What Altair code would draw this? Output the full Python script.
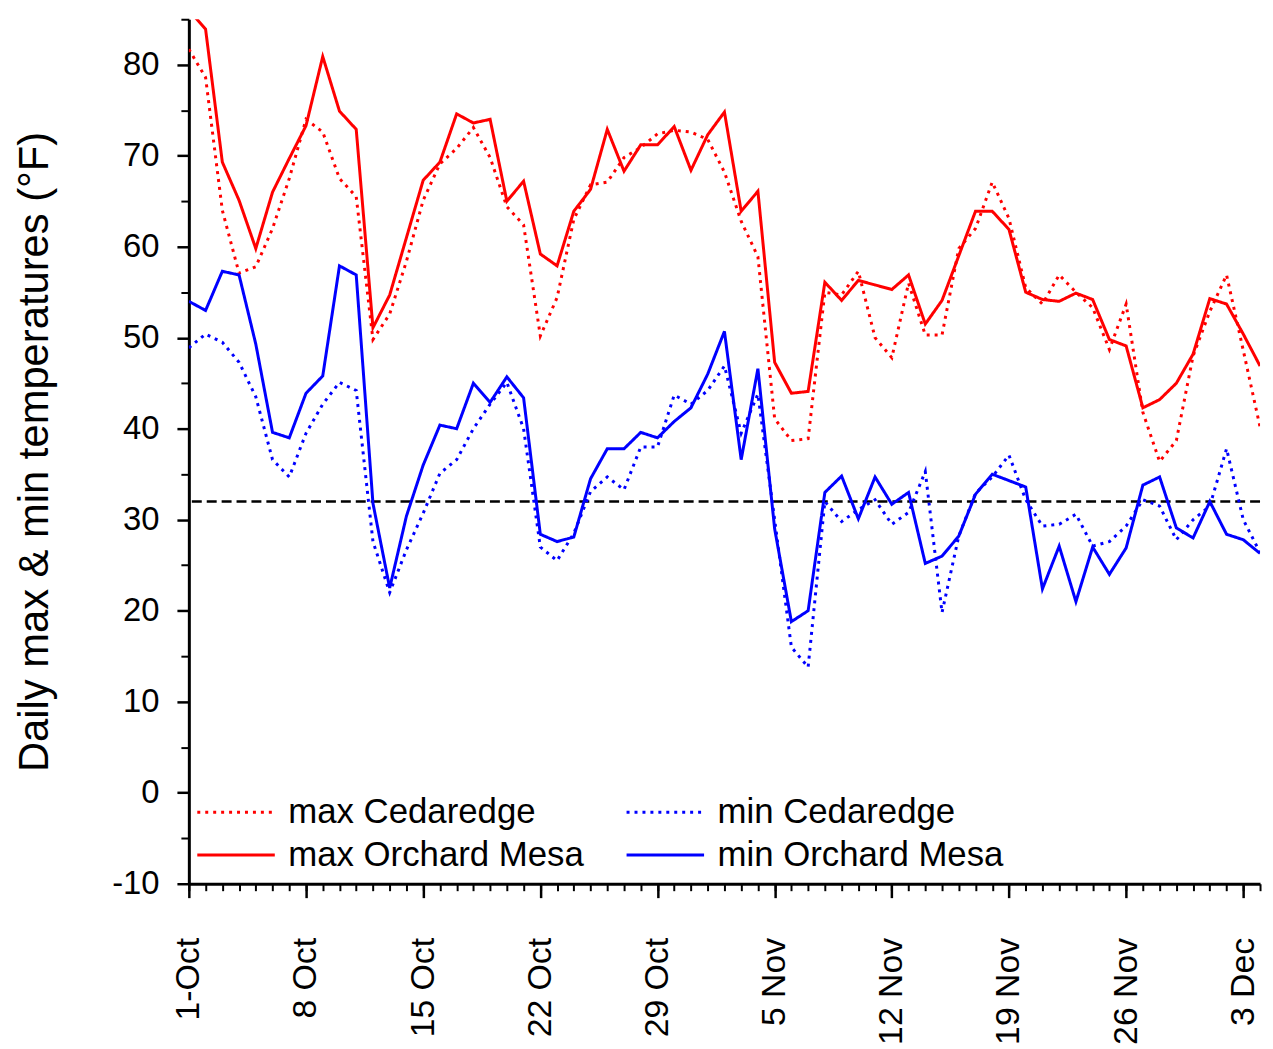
import json
import altair as alt
import pandas as pd

# ---- data ----
days = list(range(65))  # 0 = 1 Oct ... 64 = 4 Dec

max_cedaredge = [81.7, 78.6, 64.0, 57.1, 57.8, 62.0, 67.5, 74.0, 72.6, 67.5,
                 65.5, 49.8, 52.6, 58.4, 65.1, 69.1, 70.8, 73.1, 69.8, 64.4,
                 62.4, 50.2, 54.4, 63.0, 66.8, 67.1, 69.8, 70.9, 72.4, 72.8,
                 72.6, 71.8, 68.2, 62.8, 58.9, 41.1, 38.7, 38.9, 55.0, 54.7,
                 57.3, 50.0, 47.8, 56.0, 50.3, 50.3, 59.8, 62.0, 67.1, 63.1,
                 55.5, 53.7, 56.9, 55.0, 53.3, 48.7, 53.7, 41.8, 36.4, 38.7,
                 48.0, 52.9, 56.9, 48.6, 40.2]

min_cedaredge = [48.9, 50.4, 49.5, 47.3, 43.5, 36.6, 34.7, 39.5, 42.7, 45.1,
                 44.2, 27.6, 22.0, 26.7, 30.7, 35.1, 36.6, 40.0, 42.7, 45.1,
                 40.0, 27.0, 25.5, 28.5, 33.1, 34.7, 33.3, 38.0, 38.0, 43.7,
                 42.7, 44.2, 46.9, 39.5, 43.8, 30.0, 16.0, 13.8, 32.0, 29.8,
                 31.1, 32.2, 29.5, 30.8, 35.3, 19.8, 28.2, 32.9, 34.7, 37.1,
                 32.2, 29.3, 29.5, 30.6, 27.1, 27.6, 29.3, 32.2, 31.5, 27.8,
                 30.0, 31.5, 37.8, 30.0, 26.4]

max_orchard_mesa = [86.0, 83.9, 69.3, 65.1, 59.8, 66.0, 69.7, 73.3, 80.9, 74.9,
                    72.9, 51.1, 54.7, 61.0, 67.3, 69.3, 74.6, 73.6, 74.0, 65.0,
                    67.2, 59.2, 57.9, 63.9, 66.3, 72.9, 68.3, 71.2, 71.2, 73.2,
                    68.4, 72.3, 74.8, 63.9, 66.1, 47.3, 43.9, 44.1, 56.1, 54.1,
                    56.3, 55.8, 55.3, 56.9, 51.5, 54.1, 59.0, 63.9, 63.9, 61.9,
                    55.0, 54.2, 54.0, 54.9, 54.2, 49.8, 49.1, 42.3, 43.2, 45.0,
                    48.2, 54.3, 53.7, 50.4, 46.9]

min_orchard_mesa = [54.0, 53.0, 57.3, 56.9, 49.3, 39.6, 39.0, 43.9, 45.8, 57.9,
                    56.9, 31.8, 22.5, 30.4, 36.0, 40.4, 40.0, 45.0, 42.9, 45.7,
                    43.4, 28.4, 27.6, 28.1, 34.5, 37.8, 37.8, 39.6, 39.0, 40.8,
                    42.3, 46.0, 50.7, 36.6, 46.6, 29.0, 18.8, 20.0, 33.0, 34.8,
                    30.1, 34.7, 31.7, 33.0, 25.2, 26.0, 28.2, 32.8, 35.0, 34.3,
                    33.6, 22.4, 27.1, 21.0, 27.0, 24.0, 26.9, 33.8, 34.7, 29.1,
                    28.0, 32.0, 28.4, 27.8, 26.3]

series_names = ["max Cedaredge", "min Cedaredge", "max Orchard Mesa", "min Orchard Mesa"]
series_colors = ["#ff0000", "#0000ff", "#ff0000", "#0000ff"]
# legend fills column by column: first column = max series, second = min series
legend_order = ["max Cedaredge", "max Orchard Mesa", "min Cedaredge", "min Orchard Mesa"]

tick_days = [0, 7, 14, 21, 28, 35, 42, 49, 56, 63]
tick_labels = ["1-Oct", "8 Oct", "15 Oct", "22 Oct", "29 Oct",
               "5 Nov", "12 Nov", "19 Nov", "26 Nov", "3 Dec"]
y_major_ticks = [-10, 0, 10, 20, 30, 40, 50, 60, 70, 80]
y_minor_ticks = [-5, 5, 15, 25, 35, 45, 55, 65, 75, 85]
freeze_line = [32]

rows = []
for name, vals in zip(series_names,
                      [max_cedaredge, min_cedaredge, max_orchard_mesa, min_orchard_mesa]):
    for d, v in zip(days, vals):
        rows.append({"day": d, "temp": v, "series": name})
df = pd.DataFrame(rows)

FONT = "Liberation Sans"
xs = alt.Scale(domain=[0, 64], nice=False, zero=False)
ys = alt.Scale(domain=[-10, 85], nice=False, zero=False)

label_expr = "[" + ",".join(json.dumps(t) for t in tick_labels) + "][round(datum.value/7)]"

x_major = alt.Axis(values=tick_days, labelExpr=label_expr, labelAngle=-90,
                   labelAlign="right", labelBaseline="middle",
                   labelFont=FONT, labelFontSize=34, labelColor="black",
                   labelPadding=40, tickSize=14, tickWidth=2.5, tickColor="black",
                   domainColor="black", domainWidth=3, grid=False, title=None,
                   orient="bottom", labelOverlap=False)
x_minor = alt.Axis(values=days, labels=False, tickSize=7, tickWidth=2,
                   tickColor="black", domain=False, grid=False, title=None,
                   orient="bottom")
y_major = alt.Axis(values=y_major_ticks, labelExpr="'' + datum.value",
                   labelFont=FONT, labelFontSize=33,
                   labelColor="black", labelPadding=18, tickSize=12, tickWidth=2.5,
                   tickColor="black", domainColor="black", domainWidth=3,
                   grid=False, orient="left",
                   title="Daily max & min temperatures (°F)",
                   titleFont=FONT, titleFontSize=42, titleFontWeight="normal",
                   titleColor="black", titleX=-155, titleY=435,
                   titleAlign="center", titleBaseline="middle", titleAngle=270,
                   labelOverlap=False)
y_minor = alt.Axis(values=y_minor_ticks, labels=False, tickSize=8, tickWidth=2,
                   tickColor="black", domain=False, grid=False, title=None,
                   orient="left")

# custom line symbol: drawn twice as long as its layout box
legend = alt.Legend(title=None, orient="none", legendX=26.5, legendY=777, columns=2,
                    values=legend_order,
                    symbolType="M-2,0H2", symbolSize=1521, symbolStrokeWidth=3,
                    labelFont=FONT, labelFontSize=35, labelColor="black",
                    labelLimit=1000, labelOffset=31.5, columnPadding=36,
                    rowPadding=4, padding=0)

minor = alt.Chart(df).mark_line(opacity=0).encode(
    x=alt.X("day:Q", scale=xs, axis=x_minor),
    y=alt.Y("temp:Q", scale=ys, axis=y_minor),
    detail="series:N",
)

rule = alt.Chart(pd.DataFrame({"t": freeze_line})).mark_rule(
    color="black", strokeDash=[10, 5], strokeWidth=2.5
).encode(y=alt.Y("t:Q", scale=ys, axis=None))

lines = alt.Chart(df).mark_line(clip=True).encode(
    x=alt.X("day:Q", scale=xs, axis=x_major),
    y=alt.Y("temp:Q", scale=ys, axis=y_major),
    color=alt.Color("series:N",
                    scale=alt.Scale(domain=series_names, range=series_colors),
                    legend=legend),
    strokeDash=alt.StrokeDash("series:N",
                              scale=alt.Scale(domain=series_names,
                                              range=[[3, 5], [3, 5], [1, 0], [1, 0]]),
                              legend=legend),
    strokeWidth=alt.StrokeWidth("series:N",
                                scale=alt.Scale(domain=series_names,
                                                range=[3, 3, 4, 4]),
                                legend=legend),
)

chart = (
    alt.layer(minor, rule, lines)
    .resolve_axis(x="independent", y="independent")
    .properties(width=1078, height=870, autosize="none",
                padding={"left": 182, "top": 8, "right": 5, "bottom": 160})
    .configure_view(stroke=None)
)

chart.save("out.html", embed_options={"renderer": "svg", "actions": False})
